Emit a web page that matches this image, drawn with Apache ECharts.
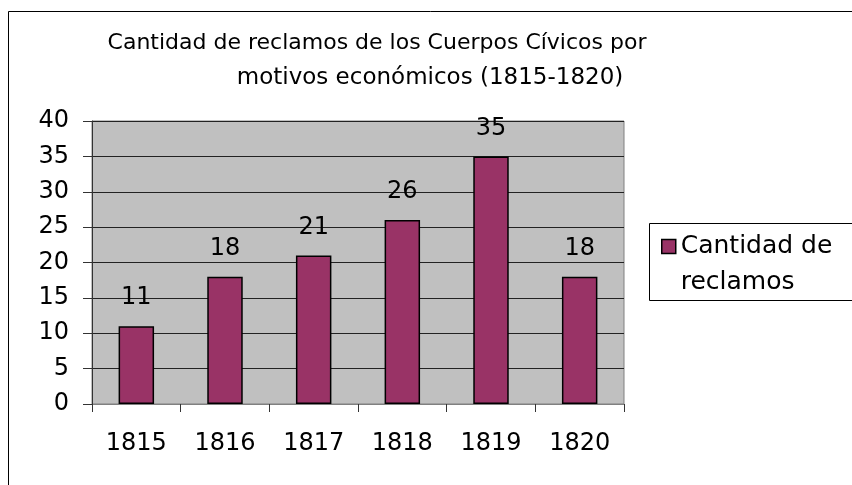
<!DOCTYPE html>
<html>
<head>
<meta charset="utf-8">
<script src="https://cdn.jsdelivr.net/npm/echarts@6/dist/echarts.min.js"></script>
<style>
  html, body { margin: 0; padding: 0; background: #fff; }
  #main { width: 852px; height: 485px; }
</style>
</head>
<body>
<div id="main"></div>
<script>
// datos del gráfico
const years = ["1815", "1816", "1817", "1818", "1819", "1820"];
const reclamos = [11, 18, 21, 26, 35, 18];
const seriesName = "Cantidad de reclamos";
const titleLines = ["Cantidad de reclamos de los Cuerpos Cívicos por", "motivos económicos (1815-1820)"];

const chart = echarts.init(document.getElementById("main"));
const fnt = "DejaVu Sans, Liberation Sans, Arial, sans-serif";

chart.setOption({
  animation: false,
  textStyle: { fontFamily: fnt, color: "#000" },
  title: [
    { text: titleLines[0], left: 372, top: 27, textAlign: "center",
      textStyle: { fontSize: 22, fontWeight: "normal", color: "#000", fontFamily: fnt } },
    { text: titleLines[1], left: 425, top: 62, textAlign: "center",
      textStyle: { fontSize: 23, fontWeight: "normal", color: "#000", fontFamily: fnt } }
  ],
  graphic: [
    // marco exterior
    { type: "rect", shape: { x: 8.5, y: 11.5, width: 900, height: 600 },
      style: { fill: null, stroke: "#000", lineWidth: 1 }, z: 100 },
    // caja de la leyenda
    { type: "rect", shape: { x: 649.5, y: 223.5, width: 300, height: 77 },
      style: { fill: "#fff", stroke: "#000", lineWidth: 1 }, z: 1 }
  ],
  legend: {
    left: 656,
    top: 193,
    orient: "vertical",
    itemWidth: 14,
    itemHeight: 14,
    itemGap: 0,
    icon: "rect",
    data: [seriesName],
    itemStyle: { borderColor: "#000", borderWidth: 1.5 },
    formatter: () => "{t| }\n{t|Cantidad de}\n{t|reclamos}",
    textStyle: {
      fontSize: 25, color: "#000", fontFamily: fnt,
      rich: { t: { fontSize: 25, lineHeight: 36, color: "#000", fontFamily: fnt } }
    },
    z: 5
  },
  grid: {
    left: 92,
    top: 121,
    right: 228,
    bottom: 81,
    show: true,
    backgroundColor: "#c0c0c0",
    borderColor: "#808080",
    borderWidth: 1
  },
  xAxis: {
    type: "category",
    data: years,
    axisLine: { lineStyle: { color: "#808080" } },
    axisTick: { show: true, length: 8, lineStyle: { color: "#333" } },
    axisLabel: { fontSize: 24, margin: 28, color: "#000", fontFamily: fnt }
  },
  yAxis: {
    type: "value",
    min: 0,
    max: 40,
    interval: 5,
    axisLine: { show: true, lineStyle: { color: "#333" } },
    axisTick: { show: true, length: 9, lineStyle: { color: "#333" } },
    axisLabel: { fontSize: 24, margin: 23, color: "#000", fontFamily: fnt },
    splitLine: { lineStyle: { color: "#222", width: 1 } }
  },
  series: [
    {
      name: seriesName,
      type: "bar",
      data: reclamos,
      barWidth: "40%",
      itemStyle: { color: "#993366", borderColor: "#000", borderWidth: 1.5 },
      label: { show: true, position: "top", distance: 16, fontSize: 24, color: "#000", fontFamily: fnt }
    }
  ]
});
</script>
</body>
</html>
